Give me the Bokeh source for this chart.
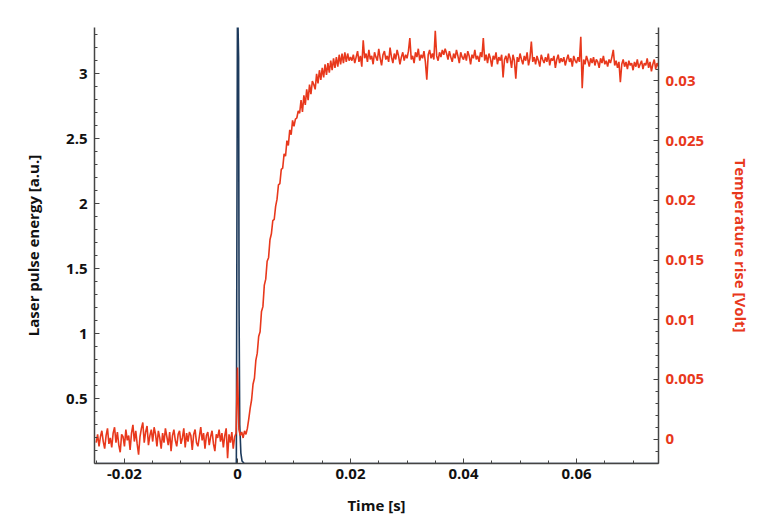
import numpy as np
from bokeh.plotting import figure
from bokeh.models import Range1d, LinearAxis, FixedTicker, ColumnDataSource
from bokeh.embed import file_html
from bokeh.resources import INLINE

# time axis of the recorder: first sample, sample step, number of samples
t_start = -0.025
t_step = 0.00025
n_samples = 399

# temperature rise (red), in units of 0.1 mV
temp_baseline = [
    -3, 4, -6, 2, 7, -2, -8, 3, 9, -4,
    1, -7, 5, 10, -3, 6, -5, -11, 4, 2,
    -6, 8, -1, 3, -9, 5, 12, -2, 7, -4,
    -13, 2, 9, 14, -3, 6, 11, -5, 3, 8,
    -2, 10, 4, -6, 7, 1, -8, 5, -3, 9,
    2, -5, 6, -10, 3, 8, -1, -6, 4, 7,
    -4, 1, 9, -7, 5, -2, 6, 3, -9, 4,
    8, -3, -6, 2, 10, -1, 5, -8, 3, 6,
    -5, 2, 7, -4, -10, 4, 1, 8, -2, 5,
    -7, 3, 9, -16, 4, -3, 6, -8, 2, 5,
]
temp_rise = [
    60, 8, 3, 6, 1, 7, 4, 9, 17, 26,
    33, 46, 51, 66, 72, 86, 90, 107, 111, 129,
    134, 149, 152, 167, 172, 183, 184, 195, 201, 213,
    214, 226, 227, 239, 237, 250, 246, 259, 255, 267,
    262, 268, 269, 275, 273, 284, 274, 288, 280, 293,
    284, 297, 289, 300, 297, 293, 306, 298, 309, 301,
    311, 303, 314, 305, 315, 307, 317, 309, 319, 311,
    320, 312, 322, 314, 323, 315, 324, 316, 323, 317,
    320,
]
temp_plateau = [
    317, 322, 315, 320, 325, 316, 321, 312, 334, 319,
    323, 316, 326, 318, 321, 314, 324, 320, 317, 327,
    319, 313, 322, 325, 318, 321, 316, 328, 320, 315,
    323, 318, 326, 321, 314, 320, 324, 317, 322, 319,
    325, 336, 318, 321, 315, 324, 320, 327, 317, 322,
    319, 325, 316, 301, 322, 326, 319, 323, 318, 342,
    321, 317, 324, 320, 326, 322, 327, 323, 318, 325,
    320, 316, 323, 319, 326, 321, 315, 324, 320, 318,
    323, 317, 325, 321, 314, 322, 319, 326, 318, 321,
    316, 324, 320, 336, 317, 322, 315, 323, 319, 312,
    321, 318, 324, 314, 320, 317, 322, 303, 318, 321,
    315, 323, 319, 311, 322, 317, 302, 320, 316, 323,
    318, 314, 321, 317, 324, 313, 319, 333, 316, 320,
    314, 321, 317, 312, 322, 318, 315, 320, 316, 323,
    313, 319, 317, 321, 311, 318, 322, 315, 319, 316,
    320, 313, 318, 322, 316, 319, 312, 321, 317, 315,
    320, 316, 337, 294, 318, 314, 321, 317, 312, 319,
    315, 320, 313, 318, 316, 311, 319, 315, 321, 314,
    317, 312, 318, 315, 320, 326, 313, 317, 311, 316,
    299, 314, 318, 312, 316, 310, 317, 313, 315, 309,
    316, 312, 318, 311, 314, 317, 310, 315, 313, 319,
    311, 316, 308, 314, 318, 310, 315, 312,
]

# laser pulse (blue)
pulse_time = [-0.025, -0.0002, 0.0, 0.0002, 0.00028, 0.0004, 0.0006, 0.0008, 0.0012, 0.075]
pulse_energy = [0.0, 0.0, 3.6, 3.12, 1.2, 0.3, 0.08, 0.02, 0.0, 0.0]

# ticks and labels
x_ticks = [-0.02, 0, 0.02, 0.04, 0.06]
x_labels = ["-0.02", "0", "0.02", "0.04", "0.06"]
left_ticks = [0.5, 1, 1.5, 2, 2.5, 3]
left_labels = ["0.5", "1", "1.5", "2", "2.5", "3"]
right_ticks = [0, 0.005, 0.01, 0.015, 0.02, 0.025, 0.03]
right_labels = ["0", "0.005", "0.01", "0.015", "0.02", "0.025", "0.03"]

RED = "#e8381c"
BLUE = "#1d3a5c"
AXIS = "#444444"
FONT = "Open Sans"

temp_volt = np.array(temp_baseline + temp_rise + temp_plateau) * 1e-4
time = t_start + t_step * np.arange(n_samples)
red_src = ColumnDataSource(dict(t=time, v=temp_volt))
blue_src = ColumnDataSource(dict(t=pulse_time, v=pulse_energy))

p = figure(width=760, height=518, output_backend="svg", toolbar_location=None,
           x_range=Range1d(-0.0253, 0.0745), y_range=Range1d(0, 3.355),
           min_border_left=94, min_border_right=102, min_border_top=27, min_border_bottom=55)
p.outline_line_color = None
p.grid.visible = False
p.extra_y_ranges = {"temp": Range1d(-0.00204, 0.03448)}

p.line("t", "v", source=blue_src, color=BLUE, line_width=1.6)
p.line("t", "v", source=red_src, color=RED, line_width=1.6, y_range_name="temp")

right = LinearAxis(y_range_name="temp", axis_label="Temperature rise [Volt]")
p.add_layout(right, "right")


def style(ax, color="#111111"):
    ax.axis_line_color = AXIS
    ax.axis_line_width = 1.5
    ax.major_tick_line_color = AXIS
    ax.minor_tick_line_color = AXIS
    ax.major_tick_in = 5
    ax.major_tick_out = 0
    ax.minor_tick_in = 3
    ax.minor_tick_out = 0
    ax.major_label_text_font = FONT
    ax.major_label_text_font_style = "bold"
    ax.major_label_text_font_size = "15px"
    ax.major_label_text_color = color
    ax.axis_label_text_font = FONT
    ax.axis_label_text_font_style = "bold"
    ax.axis_label_text_font_size = "15px"
    ax.axis_label_text_color = color


style(p.xaxis[0])
style(p.yaxis[0])
style(right, RED)

p.xaxis[0].axis_label = "Time [s]"
p.xaxis[0].ticker = FixedTicker(ticks=x_ticks,
                                minor_ticks=[-0.025 + 0.005 * i for i in range(20)])
p.xaxis[0].major_label_overrides = dict(zip(x_ticks, x_labels))
p.xaxis[0].major_label_standoff = 5
p.xaxis[0].axis_label_standoff = 13

p.yaxis[0].axis_label = "Laser pulse energy [a.u.]"
p.yaxis[0].ticker = FixedTicker(ticks=left_ticks,
                                minor_ticks=[0.1 * i for i in range(34)])
p.yaxis[0].major_label_overrides = dict(zip(left_ticks, left_labels))
p.yaxis[0].major_label_standoff = 7
p.yaxis[0].axis_label_standoff = 20

right.ticker = FixedTicker(ticks=right_ticks,
                           minor_ticks=[-0.002 + 0.001 * i for i in range(37)])
right.major_label_overrides = dict(zip(right_ticks, right_labels))
right.major_label_standoff = 7
right.axis_label_standoff = 24

open("out.html", "w").write(file_html(p, INLINE))
